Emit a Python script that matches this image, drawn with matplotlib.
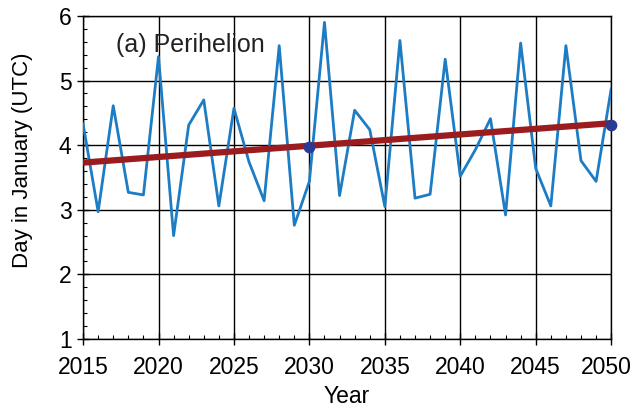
import numpy as np
import matplotlib.pyplot as plt
import matplotlib.transforms as mtransforms
from matplotlib.ticker import MultipleLocator

# yearly perihelion day in January
years = list(range(2015, 2051))
days = [4.33, 2.97, 4.61, 3.27, 3.23, 5.37, 2.60, 4.31, 4.70, 3.06,
        4.57, 3.74, 3.14, 5.54, 2.76, 3.44, 5.90, 3.22, 4.54, 4.24,
        3.05, 5.62, 3.18, 3.24, 5.33, 3.52, 3.93, 4.41, 2.92, 5.58,
        3.64, 3.06, 5.54, 3.76, 3.44, 4.87]
trend_years = [2015, 2050]
trend_days = [3.73, 4.34]
dot_years = [2030, 2050]
dot_days = [3.97, 4.31]
year_ticks = [2015, 2020, 2025, 2030, 2035, 2040, 2045, 2050]

plt.rcParams['font.family'] = ['Liberation Sans', 'DejaVu Sans']

fig = plt.figure(figsize=(6.34, 4.08), dpi=100)
ax = fig.add_axes([0.131, 0.169, 0.833, 0.792])

ax.plot(years, days, color='#1c7cc4', lw=2.0, zorder=3)
ax.plot(trend_years, trend_days, color='#9a1c1f', lw=4.5, zorder=4,
        solid_capstyle='butt')
ax.scatter(dot_years, dot_days, s=55, color='#2b3a94', zorder=5, clip_on=False)

ax.set_xlim(2015, 2050)
ax.set_ylim(1, 6)
ax.set_xticks(year_ticks)
ax.xaxis.set_minor_locator(MultipleLocator(1))
ax.yaxis.set_major_locator(MultipleLocator(1))
ax.yaxis.set_minor_locator(MultipleLocator(0.2))
ax.grid(True, which='major', color='black', lw=1.0)
ax.set_axisbelow(True)
ax.tick_params(which='major', direction='inout', length=8.5, width=1.0,
               labelsize=16.5)
ax.tick_params(which='minor', direction='in', length=3, width=0.8)
ax.tick_params(axis='x', pad=8)
ax.tick_params(axis='y', pad=4)
for s in ax.spines.values():
    s.set_linewidth(1.0)

# last year label sits a little left so it fits in the figure
last = ax.xaxis.get_major_ticks()[-1].label1
last.set_transform(last.get_transform() +
                   mtransforms.ScaledTranslation(-0.05, 0, fig.dpi_scale_trans))

ax.set_xlabel('Year', fontsize=16.5, labelpad=4)
ax.set_ylabel('Day in January (UTC)', fontsize=16, va='center')
ax.yaxis.set_label_coords(-0.1155, 0.554)
ax.text(0.0625, 0.888, '(a) Perihelion', transform=ax.transAxes,
        fontsize=18, color='#222222', va='baseline', ha='left')

fig.savefig('out.png', dpi=100)
